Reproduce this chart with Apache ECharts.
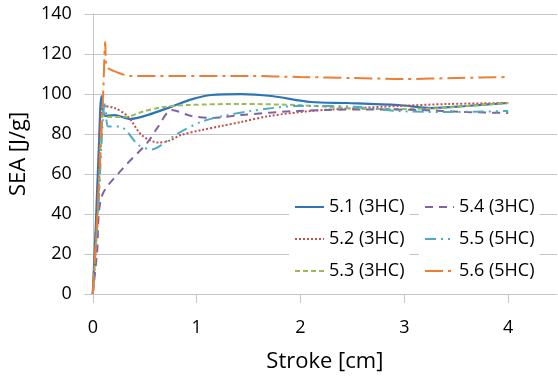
<!DOCTYPE html>
<html>
<head>
<meta charset="utf-8">
<script src="https://cdn.jsdelivr.net/npm/echarts@6/dist/echarts.min.js"></script>
<style>
html,body{margin:0;padding:0;background:#fff;}
#c{width:558px;height:378px;}
</style>
</head>
<body>
<div id="c"></div>
<script>
// ---- data ----
const seriesNames = ['5.1 (3HC)', '5.2 (3HC)', '5.3 (3HC)', '5.4 (3HC)', '5.5 (5HC)', '5.6 (5HC)'];
const xTickLabels = [0, 1, 2, 3, 4];

const s51X = [0, 0.03, 0.06, 0.085, 0.12, 0.21, 0.36, 0.53, 0.76, 0.95, 1.14, 1.43, 1.72, 2.1, 2.45, 2.94, 3.26, 3.6, 4.0];
const s51Y = [0, 35, 75, 99, 89, 89.5, 87.5, 89.5, 93.7, 97.3, 99.5, 100, 99, 96, 95.5, 94.5, 93, 94, 95.5];

const s52X = [0, 0.05, 0.1, 0.21, 0.34, 0.47, 0.63, 0.73, 0.85, 1.05, 1.24, 1.43, 1.7, 2.1, 2.45, 2.94, 3.42, 4.0];
const s52Y = [0, 50, 94, 93, 88.7, 79.5, 75.7, 76.5, 79.5, 82, 84, 86, 89, 91.5, 92.7, 94, 95, 95.5];

const s53X = [0, 0.05, 0.1, 0.14, 0.34, 0.47, 0.66, 0.92, 1.43, 1.97, 2.3, 2.62, 3.26, 3.6, 4.0];
const s53Y = [0, 40, 89.5, 88.5, 88.7, 91, 93.3, 94.5, 95, 94.5, 93.5, 92.5, 92.7, 94, 95.5];

const s54X = [0, 0.04, 0.086, 0.29, 0.52, 0.63, 0.76, 0.95, 1.14, 1.43, 1.97, 2.62, 3.13, 3.59, 4.0];
const s54Y = [0, 20, 48.7, 62.8, 75.3, 83.7, 92, 89, 88, 89.5, 91.5, 92.3, 92, 91, 90.5];

const s55X = [0, 0.05, 0.1, 0.12, 0.15, 0.26, 0.44, 0.57, 0.66, 0.82, 1.05, 1.3, 1.52, 1.97, 2.29, 2.52, 2.94, 3.42, 4.0];
const s55Y = [0, 40, 90, 96, 83.7, 83.7, 74.5, 72.3, 74.5, 80.3, 86.2, 89.5, 91.5, 94, 94, 93.6, 91.5, 91, 91.5];

const s56X = [0, 0.05, 0.1, 0.12, 0.13, 0.18, 0.37, 0.8, 1.5, 2.0, 2.5, 3.0, 3.5, 4.0];
const s56Y = [0, 45, 100, 126, 114, 112, 109, 109, 109, 108.5, 108, 107.5, 108, 108.5];

const allX = [s51X, s52X, s53X, s54X, s55X, s56X];
const allY = [s51Y, s52Y, s53Y, s54Y, s55Y, s56Y];

// ---- styles ----
const colors = ['#2E75B6', '#C0504D', '#9BBB59', '#8064A2', '#4BACC6', '#ED7D31'];
const dashes = ['solid', [2, 2], [5, 3], [8, 6], [11, 5, 2, 5, 2, 5], [18, 5, 3, 5]];
const widths = [2.25, 2, 2, 2, 2, 2];
const FONT = 'Open Sans';
const GRID = '#c6c6c6';

const series = seriesNames.map((n, i) => ({
  name: n,
  type: 'line',
  symbol: 'none',
  showSymbol: false,
  smooth: 0.3,
  data: allX[i].map((x, k) => [x, allY[i][k]]),
  lineStyle: { color: colors[i], width: widths[i], type: dashes[i] },
  itemStyle: { color: colors[i] },
  animation: false
}));

const chart = echarts.init(document.getElementById('c'), null, { renderer: 'canvas' });
const legendCommon = {
  orient: 'vertical',
  top: 187,
  padding: [10, 5, 10, 5],
  itemWidth: 29,
  itemHeight: 14,
  itemGap: 12,
  backgroundColor: '#fff',
  itemStyle: { opacity: 0, borderWidth: 0 },
  textStyle: { fontFamily: FONT, fontSize: 18, color: '#000', lineHeight: 20 },
  selectedMode: false
};
chart.setOption({
  animation: false,
  backgroundColor: '#fff',
  grid: { left: 91, right: 1, top: 14, bottom: 84, containLabel: false },
  legend: [
    Object.assign({}, legendCommon, { left: 289, data: seriesNames.slice(0, 3) }),
    Object.assign({}, legendCommon, { left: 419, data: seriesNames.slice(3, 6) })
  ],
  xAxis: {
    type: 'value',
    min: 0,
    max: 4.47,
    name: 'Stroke [cm]',
    nameLocation: 'middle',
    nameGap: 57,
    nameTextStyle: { fontFamily: FONT, fontSize: 22, color: '#000' },
    axisLine: { show: true, lineStyle: { color: GRID, width: 1 } },
    axisTick: { show: true, length: 9, lineStyle: { color: GRID }, customValues: xTickLabels },
    axisLabel: { fontFamily: FONT, fontSize: 18, color: '#000', margin: 25, customValues: xTickLabels },
    splitLine: { show: false }
  },
  yAxis: {
    type: 'value',
    min: 0,
    max: 140,
    interval: 20,
    name: 'SEA [J/g]',
    nameLocation: 'middle',
    nameRotate: 90,
    nameGap: 61,
    nameTextStyle: { fontFamily: FONT, fontSize: 22, color: '#000' },
    axisLine: { show: true, lineStyle: { color: GRID, width: 1 } },
    axisTick: { show: true, length: 8, lineStyle: { color: GRID } },
    axisLabel: { fontFamily: FONT, fontSize: 18, color: '#000', margin: 21 },
    splitLine: { show: true, lineStyle: { color: GRID, width: 1 } }
  },
  series: series
});
</script>
</body>
</html>
